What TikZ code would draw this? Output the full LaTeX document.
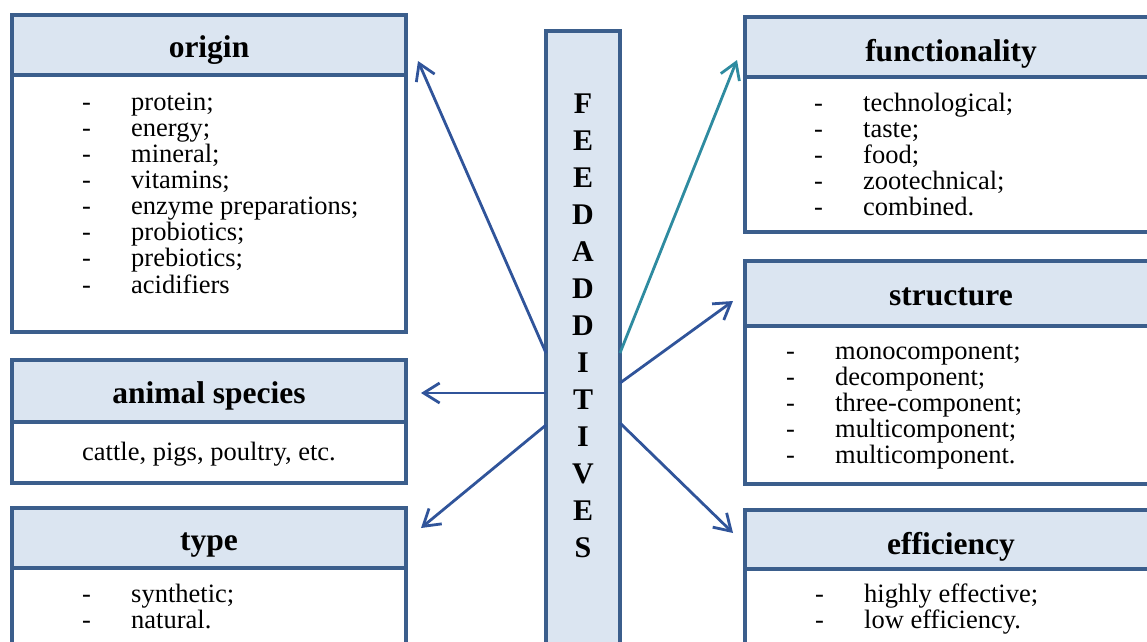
\documentclass[tikz,border=0pt]{standalone}
\usepackage{fontspec}
\setmainfont{Liberation Serif}
\usetikzlibrary{arrows.meta}
\definecolor{bordc}{HTML}{3B5E8C}
\definecolor{hdrfill}{HTML}{DBE5F1}
\definecolor{arrc}{HTML}{30549A}
\definecolor{tealc}{HTML}{2E8BA0}
\newcommand{\dashitem}[1]{\makebox[49pt][l]{-}#1}
\newcommand{\itemrows}[1]{\begin{tabular}[t]{@{}l@{}}#1\end{tabular}}
\begin{document}
\begin{tikzpicture}[x=1pt,y=-1pt,
  hdrbox/.style={draw=bordc, line width=4.5pt, fill=hdrfill, anchor=north west, inner sep=0pt, outer sep=0pt},
  bodybox/.style={draw=bordc, line width=4.5pt, fill=white, anchor=north west, inner sep=0pt, outer sep=0pt},
  htext/.style={anchor=base, inner sep=0pt, font=\fontsize{31.5}{36}\selectfont\bfseries},
  btext/.style={anchor=base west, inner sep=0pt, font=\fontsize{26.5}{26}\selectfont},
  conn/.style={draw=arrc, line width=2.8pt, -{Straight Barb[length=16pt,width=20pt]}},
]
\useasboundingbox (0,0) rectangle (1147,641);
\clip (0,0) rectangle (1147,641);

% left boxes
\node[hdrbox, minimum width=394pt, minimum height=60pt] (originH) at (12,15) {};
\node[bodybox, minimum width=394pt, minimum height=257pt] (originB) at (12,75) {};
\node[htext] (originT) at (209,57) {origin};
\node[btext] (originL) at (82,110) {\itemrows{\dashitem{protein;}\\\dashitem{energy;}\\\dashitem{mineral;}\\\dashitem{vitamins;}\\\dashitem{enzyme preparations;}\\\dashitem{probiotics;}\\\dashitem{prebiotics;}\\\dashitem{acidifiers}}};

\node[hdrbox, minimum width=394pt, minimum height=62pt] (animalH) at (12,360) {};
\node[bodybox, minimum width=394pt, minimum height=61pt] (animalB) at (12,422) {};
\node[htext] (animalT) at (209,403) {animal species};
\node[btext, anchor=base] (animalL) at (209,460) {cattle, pigs, poultry, etc.};

\node[hdrbox, minimum width=394pt, minimum height=60pt] (typeH) at (12,508) {};
\node[bodybox, minimum width=394pt, minimum height=100pt] (typeB) at (12,568) {};
\node[htext] (typeT) at (209,550) {type};
\node[btext] (typeL) at (82,602) {\itemrows{\dashitem{synthetic;}\\\dashitem{natural.}}};

% right boxes
\node[hdrbox, minimum width=412pt, minimum height=60pt] (funcH) at (745,17) {};
\node[bodybox, minimum width=412pt, minimum height=155pt] (funcB) at (745,77) {};
\node[htext] (funcT) at (951,61) {functionality};
\node[btext] (funcL) at (814,111) {\itemrows{\dashitem{technological;}\\\dashitem{taste;}\\\dashitem{food;}\\\dashitem{zootechnical;}\\\dashitem{combined.}}};

\node[hdrbox, minimum width=412pt, minimum height=65pt] (structH) at (745,261) {};
\node[bodybox, minimum width=412pt, minimum height=158pt] (structB) at (745,326) {};
\node[htext] (structT) at (951,305) {structure};
\node[btext] (structL) at (786,359) {\itemrows{\dashitem{monocomponent;}\\\dashitem{decomponent;}\\\dashitem{three-component;}\\\dashitem{multicomponent;}\\\dashitem{multicomponent.}}};

\node[hdrbox, minimum width=412pt, minimum height=59pt] (effH) at (745,510) {};
\node[bodybox, minimum width=412pt, minimum height=100pt] (effB) at (745,569) {};
\node[htext] (effT) at (951,554) {efficiency};
\node[btext] (effL) at (815,602) {\itemrows{\dashitem{highly effective;}\\\dashitem{low efficiency.}}};

% central bar
\node[hdrbox, minimum width=74pt, minimum height=650pt] (bar) at (546,31) {};
\node[anchor=base, inner sep=0pt, font=\fontsize{30}{37}\selectfont\bfseries] (barT) at (583,113)
  {\begin{tabular}[t]{@{}c@{}}F\\E\\E\\D\\A\\D\\D\\I\\T\\I\\V\\E\\S\end{tabular}};

% connector ends
\coordinate (bL1) at (546,353);
\coordinate (bL2) at (546,393);
\coordinate (bL3) at (546,425);
\coordinate (bR1) at (620,353);
\coordinate (bR2) at (620,383);
\coordinate (bR3) at (620,423);
\coordinate (tipO) at (418,61);
\coordinate (tipA) at (421,393);
\coordinate (tipT) at (421,528);
\coordinate (tipF) at (737,60);
\coordinate (tipS) at (733,301);
\coordinate (tipE) at (733,533);

\draw[conn] (bL1) -- (tipO);
\draw[conn] (bL2) -- (tipA);
\draw[conn] (bL3) -- (tipT);
\draw[conn, draw=tealc] (bR1) -- (tipF);
\draw[conn] (bR2) -- (tipS);
\draw[conn] (bR3) -- (tipE);
\end{tikzpicture}
\end{document}
